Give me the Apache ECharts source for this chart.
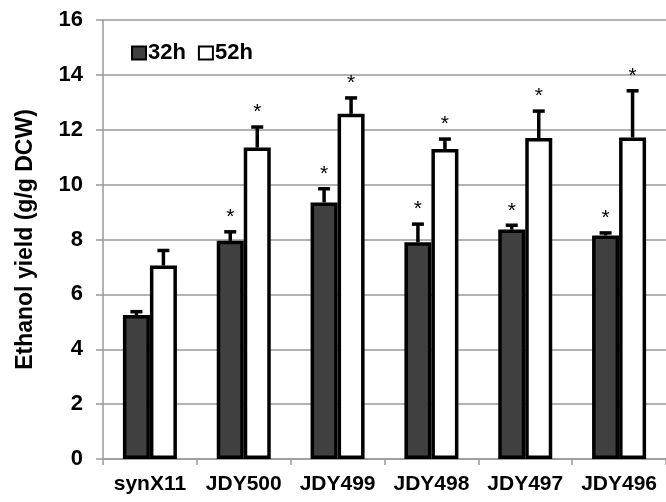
<!DOCTYPE html>
<html>
<head>
<meta charset="utf-8">
<script src="https://cdn.jsdelivr.net/npm/echarts@6/dist/echarts.min.js"></script>
<style>html,body{margin:0;padding:0;background:#fff;}#c{width:666px;height:502px;}</style>
</head>
<body>
<div id="c"></div>
<script>
var categories = ['synX11', 'JDY500', 'JDY499', 'JDY498', 'JDY497', 'JDY496'];
var values32 = [5.25, 7.95, 9.35, 7.9, 8.36, 8.15];
var err32 = [0.12, 0.33, 0.5, 0.66, 0.16, 0.09];
var values52 = [7.05, 11.35, 12.58, 11.3, 11.7, 11.72];
var err52 = [0.55, 0.75, 0.58, 0.36, 0.98, 1.7];
var sig32 = [false, true, true, true, true, true];
var sig52 = [false, true, true, true, true, true];
var yTicks = [0, 2, 4, 6, 8, 10, 12, 14, 16];

var FONT = 'Liberation Sans, Arial, sans-serif';
var BARW = 27;

function errData(vals, errs, sig) {
  return vals.map(function (v, i) { return [i, v, errs[i], sig[i] ? 1 : 0]; });
}
function makeErr(offset) {
  return function (params, api) {
    var base = api.coord([api.value(0), api.value(1)]);
    var top = api.coord([api.value(0), api.value(1) + api.value(2)]);
    var x = base[0] + offset;
    var children = [
      { type: 'line', shape: { x1: x, y1: base[1], x2: x, y2: top[1] }, style: { stroke: '#000', lineWidth: 3.5 } },
      { type: 'line', shape: { x1: x - 6, y1: top[1], x2: x + 6, y2: top[1] }, style: { stroke: '#000', lineWidth: 3.5 } }
    ];
    if (api.value(3)) {
      children.push({ type: 'text', style: { text: '*', x: x, y: top[1] - 4, align: 'center', verticalAlign: 'bottom', font: '21px ' + FONT, fill: '#000' } });
    }
    return { type: 'group', children: children };
  };
}

var chart = echarts.init(document.getElementById('c'), null, { renderer: 'canvas' });
chart.setOption({
  animation: false,
  backgroundColor: '#fff',
  grid: { left: 103, right: -6, top: 20, bottom: 43 },
  legend: {
    left: 126, top: 37, itemWidth: 14, itemHeight: 13, itemGap: 12, icon: 'rect',
    textStyle: { fontFamily: FONT, fontWeight: 'bold', fontSize: 22, color: '#000', padding: [0, 0, 0, -3] },
    data: ['32h', '52h']
  },
  xAxis: {
    type: 'category', data: categories,
    axisLine: { show: true, lineStyle: { color: '#999', width: 1.5 } },
    axisTick: { show: true, length: 6, interval: 0, alignWithLabel: false, lineStyle: { color: '#999', width: 1.5 } },
    axisLabel: { interval: 0, fontFamily: FONT, fontWeight: 'bold', fontSize: 21, color: '#000', margin: 15 },
    splitLine: { show: false }
  },
  yAxis: {
    type: 'value', min: 0, max: 16, interval: 2,
    name: 'Ethanol yield (g/g DCW)', nameLocation: 'middle', nameGap: 66,
    nameTextStyle: { fontFamily: FONT, fontWeight: 'bold', fontSize: 23, color: '#000' },
    axisLine: { show: true, lineStyle: { color: '#999', width: 1.5 } },
    axisTick: { show: true, length: 7, lineStyle: { color: '#999', width: 1.5 } },
    axisLabel: { fontFamily: FONT, fontWeight: 'bold', fontSize: 22, color: '#000', margin: 20 },
    splitLine: { show: true, lineStyle: { color: '#999', width: 1.5 } }
  },
  series: [
    {
      name: '32h', type: 'bar', data: values32,
      barWidth: BARW, barGap: '0%',
      itemStyle: { color: '#404040', borderColor: '#000', borderWidth: 3.5 }
    },
    {
      name: '52h', type: 'bar', data: values52,
      barWidth: BARW, barGap: '0%',
      itemStyle: { color: '#fff', borderColor: '#000', borderWidth: 3.5 }
    },
    {
      type: 'custom', z: 5,
      data: errData(values32, err32, sig32), renderItem: makeErr(-BARW / 2)
    },
    {
      type: 'custom', z: 5,
      data: errData(values52, err52, sig52), renderItem: makeErr(BARW / 2)
    }
  ]
});
</script>
</body>
</html>
